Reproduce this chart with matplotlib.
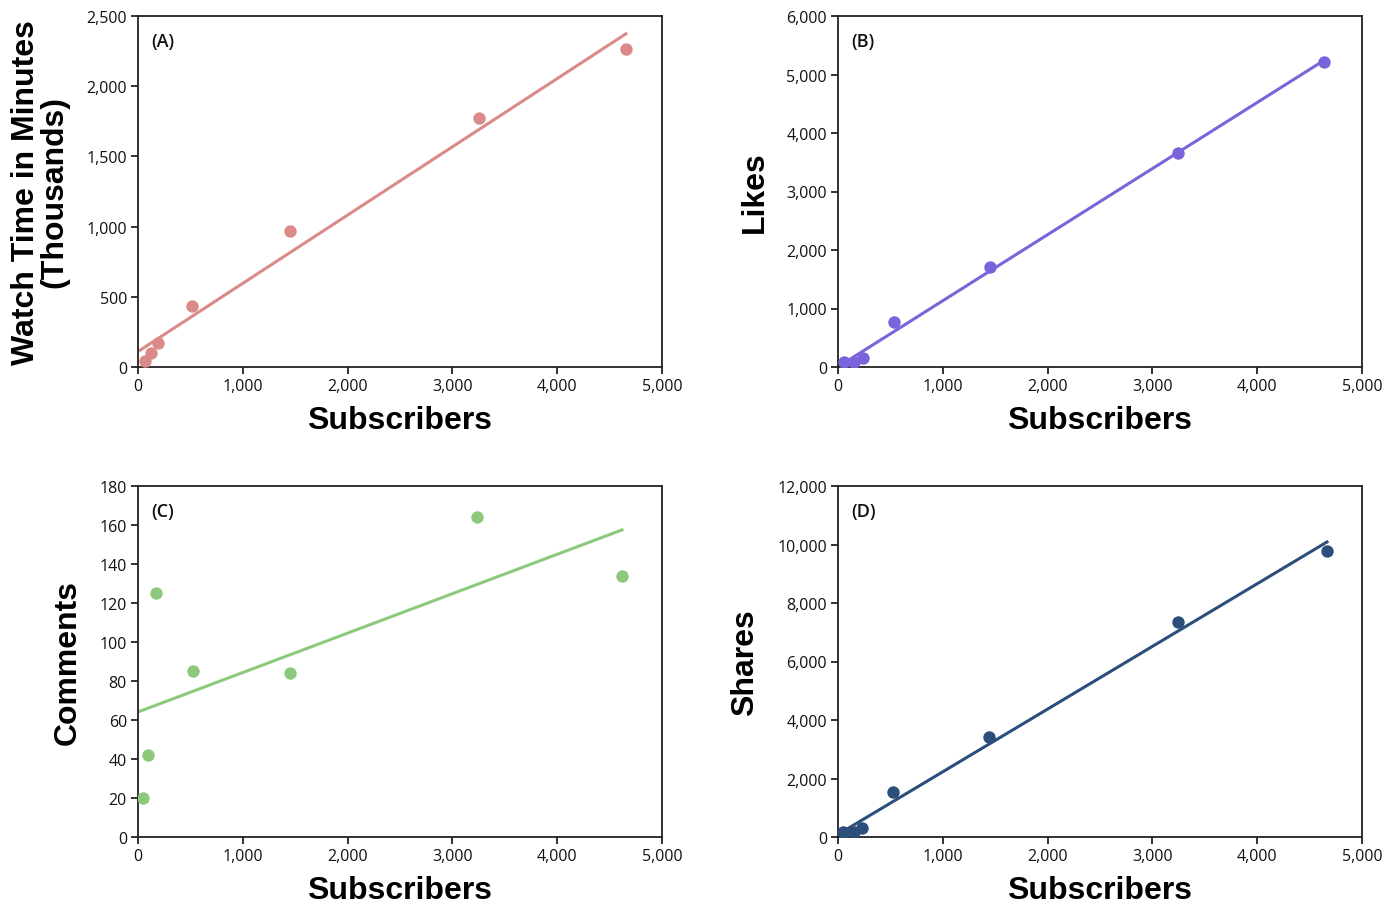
import numpy as np
import matplotlib
matplotlib.use("Agg")
import matplotlib.pyplot as plt
from matplotlib.ticker import FuncFormatter

plt.rcParams['font.family'] = ['Open Sans', 'DejaVu Sans']

# Subscriber counts per channel, as plotted in each panel
subs_a = [67, 121, 194, 518, 1448, 3254, 4656]
subs_b = [57, 153, 236, 534, 1448, 3244, 4637]
subs_c = [51, 98, 169, 528, 1448, 3235, 4618]
subs_d = [51, 153, 232, 528, 1441, 3244, 4666]

watch_time = [41, 102, 171, 437, 967, 1773, 2265]
likes = [80, 80, 149, 769, 1715, 3658, 5214]
comments = [20, 42, 125, 85, 84, 164, 134]
shares = [161, 161, 297, 1538, 3429, 7350, 9778]

panel_tags = ["(A)", "(B)", "(C)", "(D)"]
y_labels = ["Watch Time in Minutes\n(Thousands)", "Likes", "Comments", "Shares"]
x_label = "Subscribers"
y_limits = [(0, 2500), (0, 6000), (0, 180), (0, 12000)]
y_steps = [500, 1000, 20, 2000]
colors = ["#da8a88", "#7b63db", "#8cc97c", "#2b4f7a"]

xs = [subs_a, subs_b, subs_c, subs_d]
ys = [watch_time, likes, comments, shares]

fig = plt.figure(figsize=(14, 9.04), dpi=100)
W, H = 1400, 904
boxes = [(138, 17), (838, 17), (138, 487), (838, 487)]
aw, ah = 524, 351

thousands = FuncFormatter(lambda v, p: f"{int(v):,}")
label_font = ['Liberation Sans', 'DejaVu Sans']

for i in range(4):
    l, t = boxes[i]
    ax = fig.add_axes([l / W, 1 - (t + ah) / H, aw / W, ah / H])
    x = np.array(xs[i], dtype=float)
    y = np.array(ys[i], dtype=float)
    ax.scatter(x, y, s=80, color=colors[i], zorder=3, linewidths=0)
    slope, icpt = np.polyfit(x, y, 1)
    xl = np.linspace(20, x.max(), 50)
    ax.plot(xl, slope * xl + icpt, color=colors[i], lw=2.2, zorder=2)

    ax.set_xlim(0, 5000)
    ax.set_ylim(*y_limits[i])
    ax.set_xticks(np.arange(0, 5001, 1000))
    ax.set_yticks(np.arange(y_limits[i][0], y_limits[i][1] + 1, y_steps[i]))
    ax.xaxis.set_major_formatter(thousands)
    ax.yaxis.set_major_formatter(thousands)
    ax.tick_params(axis='both', direction='out', length=5, width=1.3,
                   labelsize=11.5, color='#222222', labelcolor='#111111', pad=3)
    for sp in ax.spines.values():
        sp.set_linewidth(1.3)
        sp.set_color('#222222')

    ax.set_xlabel(x_label, fontsize=23, fontweight='black',
                  family=label_font, labelpad=8)
    ax.set_ylabel(y_labels[i], fontsize=23, fontweight='black',
                  family=label_font, linespacing=0.95, labelpad=12)
    ax.text(0.025, 0.955, panel_tags[i], transform=ax.transAxes,
            fontsize=13, fontweight='semibold', va='top', ha='left',
            color='#111111')

fig.savefig("out.png", dpi=100, facecolor='white')
